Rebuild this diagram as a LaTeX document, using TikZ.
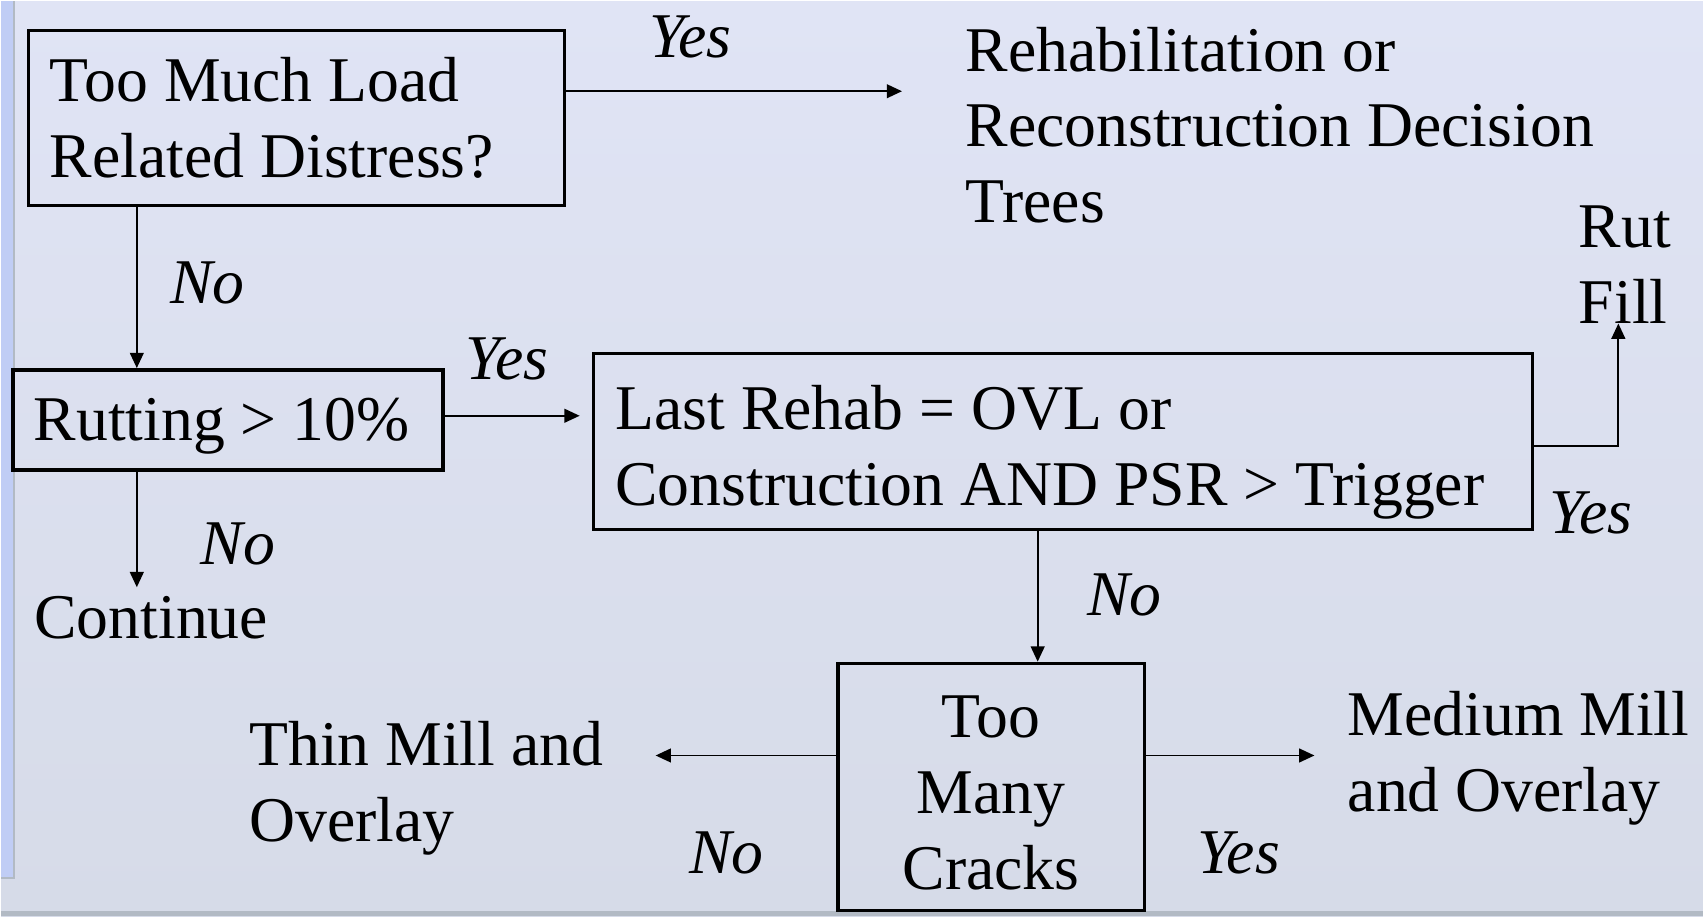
\documentclass[tikz,border=0pt]{standalone}
\usepackage{fontspec}
\setmainfont{Liberation Serif}
\usepackage{tikz}
\usetikzlibrary{positioning,arrows.meta,calc}

\definecolor{slidetop}{RGB}{224,228,245}
\definecolor{slidebot}{RGB}{214,219,232}
\definecolor{sidebar}{RGB}{192,205,245}
\definecolor{barline}{RGB}{178,186,196}

% invisible strut that pushes the first line of a box down
\newcommand{\lift}[1]{\rule{0pt}{#1}}

\tikzset{
  txt/.style={font=\fontsize{16.7}{19.9}\selectfont, inner sep=0pt},
  ans/.style={font=\fontsize{16.7}{19.9}\selectfont\itshape, inner sep=0pt},
  box/.style={draw, line width=0.8pt, txt, align=left, inner xsep=0.2cm,
    execute at begin node={\spaceskip=0.25em plus 0.1em\relax}},
  flow/.style={line width=0.5pt, -{Triangle[length=4pt,width=3.6pt]}}
}

\begin{document}
\begin{tikzpicture}
  \def\colx{1.25} % left column of arrows
  \def\midx{9.55} % arrow into the cracks box
  % slide background
  \shade[top color=slidetop, bottom color=slidebot] (0,0) rectangle (15.68,-8.43);
  \fill[sidebar] (0,0) rectangle (0.12,-8.08);
  \draw[barline, line width=0.6pt] (0.12,0) -- (0.12,-8.08) -- (0,-8.08);
  \fill[barline] (0,-8.38) rectangle (15.68,-8.43);
  \useasboundingbox (0,0) rectangle (15.68,-8.43);

  % decision boxes
  \node[box, minimum height=1.61cm, text width=4.54cm] (load) at (2.72,-1.075)
    {Too Much Load\\Related Distress?};
  \node[box, line width=1.1pt, minimum height=0.92cm, text width=3.58cm, inner xsep=0.19cm] (rut) at (2.09,-3.86)
    {\lift{0.50cm}Rutting > 10\%};
  \node[box, minimum height=1.62cm, text width=8.25cm] (rehab) at (9.785,-4.06)
    {\lift{0.60cm}Last Rehab = OVL or\\Construction AND PSR > Trigger};
  \node[box, align=center, minimum height=2.28cm, text width=2.42cm] (cracks) at (9.12,-7.24)
    {\lift{0.50cm}Too\\Many\\Cracks};

  % outcomes
  \node[txt, align=left, anchor=north west] (trees) at (8.88,-0.23)
    {Rehabilitation or\\Reconstruction Decision\\Trees};
  \node[txt, align=left, anchor=north west] (rutfill) at (14.53,-1.88) {Rut\\Fill};
  \node[txt, anchor=north west] (cont) at (0.30,-5.48) {Continue};
  \node[txt, align=left, anchor=north west] (thin) at (2.28,-6.63) {Thin Mill and\\Overlay};
  \node[txt, align=left, anchor=north west] (medium) at (12.40,-6.35) {Medium Mill\\and Overlay};

  % free arrow ends
  \coordinate (treeend) at (8.30,-0.83);
  \coordinate (lastend) at (5.33,-3.82);
  \coordinate (contend) at (\colx,-5.40);
  \coordinate (thinend) at (6.03,-6.95);
  \coordinate (medend) at (12.10,-6.95);

  % connectors
  \draw[flow] (treeend -| load.east) -- (treeend);
  \draw[flow] (load.south -| \colx,0) -- (rut.north -| \colx,0);
  \draw[flow] (lastend -| rut.east) -- (lastend);
  \draw[flow] (rut.south -| \colx,0) -- (contend);
  \draw[flow] ($(rehab.east)+(0,-0.04)$) -| (14.90,-2.97);
  \draw[flow] (rehab.south -| \midx,0) -- (cracks.north -| \midx,0);
  \draw[flow] (thinend -| cracks.west) -- (thinend);
  \draw[flow] (medend -| cracks.east) -- (medend);

  % yes / no labels
  \node[ans] (yes1) at (6.35,-0.33) {Yes};
  \node[ans] (no1) at (1.90,-2.60) {No};
  \node[ans] (yes2) at (4.66,-3.30) {Yes};
  \node[ans] (no2) at (2.18,-5.00) {No};
  \node[ans] (yes3) at (14.65,-4.72) {Yes};
  \node[ans] (no3) at (10.35,-5.47) {No};
  \node[ans] (no4) at (6.68,-7.85) {No};
  \node[ans] (yes4) at (11.40,-7.85) {Yes};
\end{tikzpicture}
\end{document}
